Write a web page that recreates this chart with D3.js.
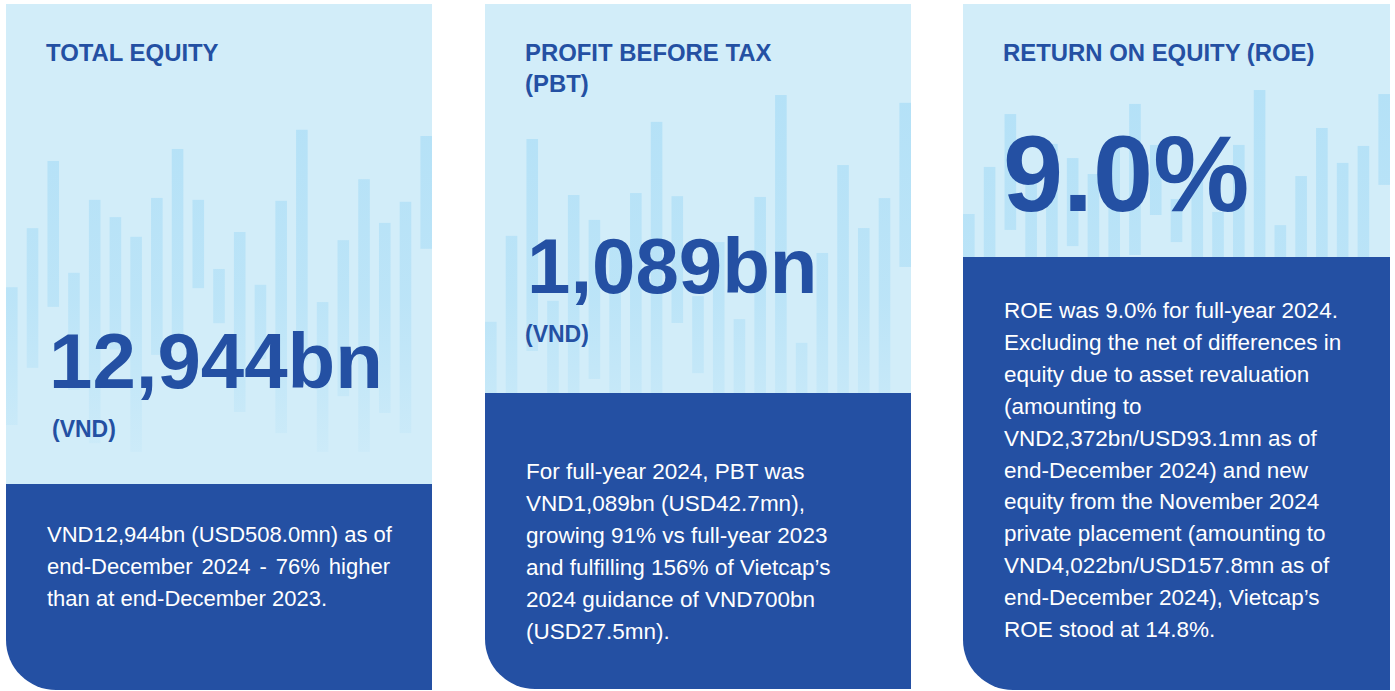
<!DOCTYPE html>
<html>
<head>
<meta charset="utf-8">
<script src="https://cdn.jsdelivr.net/npm/d3@7"></script>
<style>
  body { margin: 0; background: #fff; }
  svg { display: block; font-family: "Liberation Sans", Arial, Helvetica, sans-serif; }
</style>
</head>
<body>
<script>
// card texts
var titles = [["TOTAL EQUITY"], ["PROFIT BEFORE TAX", "(PBT)"], ["RETURN ON EQUITY (ROE)"]];
var headlines = ["12,944bn", "1,089bn", "9.0%"];
var units = ["(VND)", "(VND)", ""];
var notes = [
  ["VND12,944bn (USD508.0mn) as of",
   "end-December 2024 - 76% higher",
   "than at end-December 2023."],
  ["For full-year 2024, PBT was",
   "VND1,089bn (USD42.7mn),",
   "growing 91% vs full-year 2023",
   "and fulfilling 156% of Vietcap\u2019s",
   "2024 guidance of VND700bn",
   "(USD27.5mn)."],
  ["ROE was 9.0% for full-year 2024.",
   "Excluding the net of differences in",
   "equity due to asset revaluation",
   "(amounting to",
   "VND2,372bn/USD93.1mn as of",
   "end-December 2024) and new",
   "equity from the November 2024",
   "private placement (amounting to",
   "VND4,022bn/USD157.8mn as of",
   "end-December 2024), Vietcap\u2019s",
   "ROE stood at 14.8%."]
];

// decorative bars, as % of each card's light panel height (high / low ends)
var equityHigh = [41.0, 53.3, 67.3, 44.0, 59.2, 55.6, 51.5, 59.6, 69.8, 59.2, 44.8, 52.5, 41.5, 59.0, 73.8, 37.9, 50.8, 63.5, 54.4, 58.8, 72.5];
var equityLow  = [12.3, 24.2, 36.9, 19.6,  8.5, 28.0,  6.7, 26.9, 31.0, 40.8, 33.5, 15.0, 26.0, 10.6, 26.0,  6.7, 18.3,  6.7, 14.8, 10.6, 49.0];
var pbtHigh = [18.3, 40.4, 65.3, 23.7, 50.9, 44.5, 37.5, 51.4, 69.7, 50.6, 24.9, 38.8, 19.0, 50.4, 76.6, 12.9, 36.0, 58.6, 42.4, 50.1, 74.6];
var pbtLow  = [0, 0, 10.8, 0, 0, 3.6, 0, 0, 0, 18.0, 5.1, 0, 0, 0, 0, 0, 0, 0, 0, 0, 32.4];
var roeHigh = [17.0, 35.6, 56.5, 32.0, 44.7, 39.1, 32.8, 46.0, 60.5, 44.3, 22.9, 34.4, 17.8, 44.3, 66.0, 12.6, 32.0, 51.0, 37.2, 43.9, 64.4];
var roeLow  = [0, 0, 10.7, 0, 0, 4.3, 0, 0, 0.8, 16.6, 5.9, 0, 0, 0, 0, 0, 0, 0, 0, 0, 28.5];

var barHigh = [equityHigh, pbtHigh, roeHigh];
var barLow = [equityLow, pbtLow, roeLow];

var width = 1395, height = 691;
var panelTop = 4;
var dark = "#2450a3", light = "#d2edf9", barColor = "#b4e1f7";

var layout = [
  {x: 6,   w: 426, split: 484, bottom: 690, bigY: 388, bigSize: 78,  bigX: 43, unitX: 46, unitY: 437, noteY: 542, noteSize: 22,   justify: 343},
  {x: 485, w: 426, split: 393, bottom: 689, bigY: 293, bigSize: 78,  bigX: 42, unitX: 40, unitY: 342, noteY: 479, noteSize: 22.5, justify: 0},
  {x: 963, w: 427, split: 257, bottom: 690, bigY: 211, bigSize: 108, bigX: 40, unitX: 40, unitY: 0,   noteY: 318, noteSize: 22.5, justify: 0}
];
var pad = 40, radius = 50, lineH = 31.9;

var svg = d3.select("body").append("svg")
    .attr("width", width)
    .attr("height", height);

var defs = svg.append("defs");

layout.forEach(function(c, i) {
  var g = svg.append("g");

  // light top panel
  g.append("rect")
    .attr("x", c.x).attr("y", panelTop)
    .attr("width", c.w).attr("height", c.split - panelTop)
    .attr("fill", light);

  defs.append("clipPath").attr("id", "clip" + i)
    .append("rect")
    .attr("x", c.x).attr("y", panelTop)
    .attr("width", c.w).attr("height", c.split - panelTop);

  var grad = defs.append("linearGradient").attr("id", "fade" + i)
    .attr("gradientUnits", "userSpaceOnUse")
    .attr("x1", 0).attr("x2", 0).attr("y1", 90).attr("y2", 470);
  grad.append("stop").attr("offset", 0).attr("stop-color", barColor).attr("stop-opacity", 1);
  grad.append("stop").attr("offset", 0.55).attr("stop-color", barColor).attr("stop-opacity", 0.75);
  grad.append("stop").attr("offset", 1).attr("stop-color", barColor).attr("stop-opacity", 0.12);

  var x = d3.scaleBand()
    .domain(d3.range(barHigh[i].length))
    .range([c.x, c.x + c.w])
    .paddingInner(0.44)
    .paddingOuter(0);
  var y = d3.scaleLinear().domain([0, 100]).range([c.split, panelTop]);

  g.append("g").attr("clip-path", "url(#clip" + i + ")")
    .selectAll("rect")
    .data(barHigh[i])
    .enter().append("rect")
    .attr("x", function(d, j) { return x(j); })
    .attr("width", x.bandwidth())
    .attr("y", function(d) { return y(d); })
    .attr("height", function(d, j) { return y(barLow[i][j]) - y(d); })
    .attr("fill", "url(#fade" + i + ")");

  // dark bottom panel with rounded bottom-left corner
  var p = d3.path();
  p.moveTo(c.x, c.split);
  p.lineTo(c.x + c.w, c.split);
  p.lineTo(c.x + c.w, c.bottom);
  p.lineTo(c.x + radius, c.bottom);
  p.arcTo(c.x, c.bottom, c.x, c.bottom - radius, radius);
  p.closePath();
  g.append("path").attr("d", p.toString()).attr("fill", dark);

  // title
  titles[i].forEach(function(t, k) {
    g.append("text")
      .attr("x", c.x + pad).attr("y", 61 + k * 31)
      .attr("fill", dark)
      .style("font-size", "23.9px").style("font-weight", "bold")
      .text(t);
  });

  // headline figure
  g.append("text")
    .attr("x", c.x + c.bigX).attr("y", c.bigY)
    .attr("fill", dark)
    .style("font-size", c.bigSize + "px").style("font-weight", "bold")
    .text(headlines[i]);

  if (units[i]) {
    g.append("text")
      .attr("x", c.x + c.unitX).attr("y", c.unitY)
      .attr("fill", dark)
      .style("font-size", "23px").style("font-weight", "bold")
      .text(units[i]);
  }

  // note text
  notes[i].forEach(function(t, k) {
    var txt = g.append("text")
      .attr("x", c.x + pad + 1).attr("y", c.noteY + k * lineH)
      .attr("fill", "#fff")
      .style("font-size", c.noteSize + "px")
      .text(t);
    if (c.justify && k < notes[i].length - 1) {
      var natural = txt.node().getComputedTextLength();
      var spaces = t.split(" ").length - 1;
      if (spaces > 0 && natural < c.justify) txt.style("word-spacing", ((c.justify - natural) / spaces) + "px");
    }
  });
});
</script>
</body>
</html>
